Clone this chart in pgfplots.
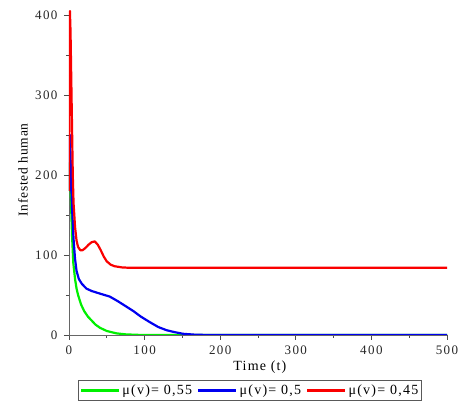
\documentclass[border=0pt]{standalone}
\usepackage{fontspec}
\setmainfont{Liberation Serif}
\newfontfamily\tickfont[LetterSpace=11]{Liberation Serif}
\newfontfamily\labfont[LetterSpace=8.5]{Liberation Serif}
\newfontfamily\ylabfont[LetterSpace=6]{Liberation Serif}
\newfontfamily\legfont[LetterSpace=9]{Liberation Serif}
\usepackage{pgfplots}
\pgfplotsset{compat=1.18}
\usetikzlibrary{calc}
\definecolor{mgreen}{RGB}{0,240,0}
\definecolor{mblue}{RGB}{0,0,240}
\definecolor{mred}{RGB}{250,0,0}

\begin{document}
\begin{tikzpicture}
\begin{axis}[name=a,scale only axis,width=378pt,height=324pt,
  xmin=0,xmax=500,ymin=0,ymax=405,
  axis lines=left,axis line style={-,gray!80!black,line width=0.9pt},
  xtick={0,100,200,300,400,500},ytick={0,100,200,300,400},
  minor tick num=1,tick align=outside,
  tick style={gray!60!black,line width=0.8pt},
  major tick length=5pt,minor tick length=3pt,
  /pgf/number format/assume math mode=true,
  tick label style={font=\tickfont\fontsize{13}{15}\selectfont,text=black!85},
  yticklabel style={xshift=-3pt},xticklabel style={yshift=-2pt},
  xlabel={Time (t)},ylabel={Infested human},
  xlabel style={at={(axis description cs:0.505,-0.100)},anchor=center,font=\labfont\fontsize{14}{16}\selectfont},
  ylabel style={at={(axis description cs:-0.122,0.509)},anchor=center,font=\ylabfont\fontsize{13.5}{16}\selectfont},
  legend columns=3,
  legend style={at={(axis description cs:0.024,-0.139)},anchor=north west,
    draw=gray!70!black,line width=0.8pt,
    font=\legfont\fontsize{14}{16}\selectfont,inner xsep=1.5pt,inner ysep=2.5pt,
    /tikz/every even column/.append style={column sep=3pt}},
  legend image code/.code={\draw[#1,line width=2.4pt] (0pt,0pt) -- (38pt,0pt);},
  every axis plot/.append style={line width=2.2pt,line join=round}]
\addplot[mgreen] coordinates {(0,180)(0.6,215)(1.2,210)(2,185)(3,155)(4,125)(5.7,90)(8,70)(10,58)(12,50)(16,38)(20,30)(25,23)(30,18)(35,13)(41,9)(50,5)(63,2)(75,0.8)(90,0.2)(110,0)(500,0)};
\addlegendentry{μ(v)= 0,55}
\addplot[mblue] coordinates {(0,180)(0.6,240)(1.2,250)(2,225)(3,190)(4,160)(6,120)(8,95)(10,80)(13,70)(17,64)(23,58)(30,55)(40,52)(54,48)(65,42)(75,36)(85,30)(95,23)(107,16)(118,10)(129,6)(140,3.5)(151,1.5)(165,0.5)(180,0.1)(200,0)(500,0)};
\addlegendentry{μ(v)= 0,5}
\addplot[mred] coordinates {(0,180)(0.4,300)(0.8,395)(1.2,405)(2,380)(3,320)(4,260)(5,200)(6,165)(8,135)(10,118)(12,110)(15,106)(18,106)(22,109)(26,113)(30,116)(34,117)(38,113)(42,106)(46,98)(50,92)(55,88)(60,86)(70,84.5)(80,84)(100,84)(500,84)};
\addlegendentry{μ(v)= 0,45}
\end{axis}
\pgfresetboundingbox
\path[use as bounding box] ($(a.south west)+(-69pt,-68pt)$) rectangle ($(a.north east)+(16pt,11pt)$);
\end{tikzpicture}
\end{document}
